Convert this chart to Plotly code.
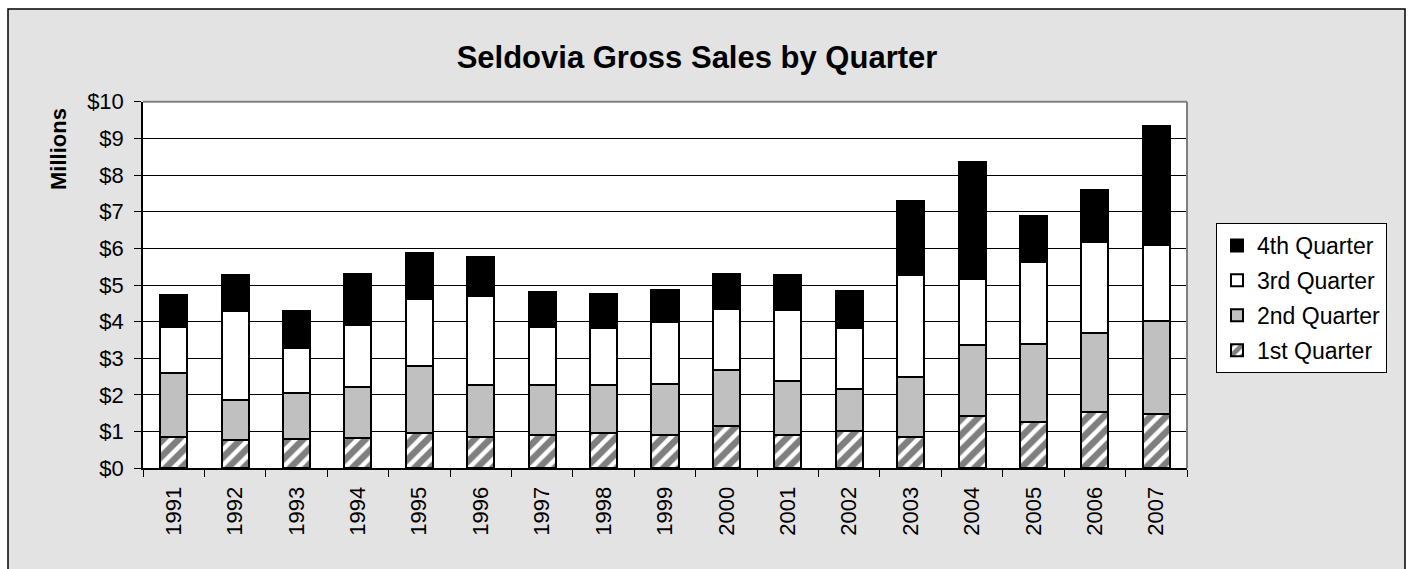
import plotly.graph_objects as go

W, H = 1411, 569

years = ["1991", "1992", "1993", "1994", "1995", "1996", "1997", "1998", "1999",
         "2000", "2001", "2002", "2003", "2004", "2005", "2006", "2007"]

# quarterly gross sales, $ millions
q1 = [0.86, 0.77, 0.80, 0.84, 0.97, 0.86, 0.91, 0.95, 0.92, 1.15, 0.91, 1.02, 0.86, 1.43, 1.27, 1.53, 1.47]
q2 = [1.73, 1.09, 1.25, 1.39, 1.81, 1.41, 1.35, 1.32, 1.39, 1.54, 1.47, 1.15, 1.62, 1.94, 2.12, 2.17, 2.56]
q3 = [1.26, 2.44, 1.24, 1.67, 1.84, 2.42, 1.60, 1.56, 1.67, 1.66, 1.93, 1.66, 2.79, 1.79, 2.23, 2.48, 2.05]
q4 = [0.89, 0.96, 0.99, 1.41, 1.24, 1.07, 0.94, 0.92, 0.89, 0.95, 0.97, 1.01, 2.02, 3.20, 1.27, 1.42, 3.26]

series_names = ["1st Quarter", "2nd Quarter", "3rd Quarter", "4th Quarter"]
y_tick_vals = [0, 1, 2, 3, 4, 5, 6, 7, 8, 9, 10]
y_tick_text = ["$0", "$1", "$2", "$3", "$4", "$5", "$6", "$7", "$8", "$9", "$10"]

FONT = "Arial, Liberation Sans, sans-serif"
OUTLINE = dict(color="black", width=2)

fig = go.Figure()
fig.add_trace(go.Bar(
    x=years, y=q1, name=series_names[0], legendgroup="a", legendrank=4,
    marker=dict(color="white", line=OUTLINE,
                pattern=dict(shape="/", fgcolor="black", bgcolor="white",
                             size=11, solidity=0.6))))
fig.add_trace(go.Bar(
    x=years, y=q2, name=series_names[1], legendgroup="b", legendrank=3,
    marker=dict(color="#c0c0c0", line=OUTLINE)))
fig.add_trace(go.Bar(
    x=years, y=q3, name=series_names[2], legendgroup="c", legendrank=2,
    marker=dict(color="white", line=OUTLINE)))
fig.add_trace(go.Bar(
    x=years, y=q4, name=series_names[3], legendgroup="d", legendrank=1,
    marker=dict(color="black", line=OUTLINE)))

px0, px1 = 143 / W, 1187 / W
py0, py1 = 1 - 468.3 / H, 1 - 101.7 / H

shapes = [
    dict(type="rect", xref="paper", yref="paper", x0=8 / W, x1=1405 / W,
         y0=-0.05, y1=1 - 9 / H, fillcolor="#e3e3e3",
         line=dict(color="black", width=1.5), layer="below"),
    dict(type="rect", xref="paper", yref="paper", x0=px0, x1=px1,
         y0=py0, y1=py1, fillcolor="white", line=dict(width=0), layer="below"),
    dict(type="line", xref="paper", yref="paper", x0=px0, x1=px1,
         y0=py1, y1=py1, line=dict(color="#808080", width=2), layer="above"),
    dict(type="line", xref="paper", yref="paper", x0=px1, x1=px1,
         y0=py0, y1=py1, line=dict(color="#808080", width=2), layer="above"),
]

fig.update_layout(
    width=W, height=H, autosize=False,
    margin=dict(l=0, r=0, t=0, b=0, autoexpand=False),
    paper_bgcolor="white", plot_bgcolor="white",
    barmode="stack", bargap=0.56,
    font=dict(family=FONT, color="black"),
    title=dict(text="Seldovia Gross Sales by Quarter", x=697 / W, xanchor="center",
               y=1 - 57 / H, yanchor="middle",
               font=dict(family=FONT, size=31, weight="bold", color="black")),
    xaxis=dict(domain=[px0, px1], type="category", tickson="boundaries",
               ticks="outside", ticklen=7, tickcolor="black", tickwidth=1,
               tickangle=-90, tickfont=dict(size=22, family=FONT),
               showline=True, linecolor="black", linewidth=1.5,
               showgrid=False, ticklabelstandoff=8, automargin=False),
    yaxis=dict(domain=[py0, py1], range=[0, 10], tickmode="array",
               tickvals=y_tick_vals, ticktext=y_tick_text,
               ticks="outside", ticklen=7, tickcolor="black",
               tickfont=dict(size=22, family=FONT),
               showline=True, linecolor="black", linewidth=1.5,
               showgrid=True, gridcolor="black", gridwidth=1,
               zeroline=False, ticklabelstandoff=6, automargin=False),
    legend=dict(x=1216 / W, y=1 - 223 / H, xanchor="left", yanchor="top",
                bgcolor="white", bordercolor="black", borderwidth=1,
                font=dict(size=23, family=FONT),
                traceorder="grouped", tracegroupgap=2),
    shapes=shapes,
    annotations=[dict(text="<b>Millions</b>", textangle=-90, xref="paper", yref="paper",
                      x=58 / W, y=1 - 149 / H, xanchor="center", yanchor="middle",
                      showarrow=False, font=dict(size=22, family=FONT))],
)

fig.write_html("out.html", config={"displayModeBar": False},
               post_script="document.body.style.margin='0px';")
